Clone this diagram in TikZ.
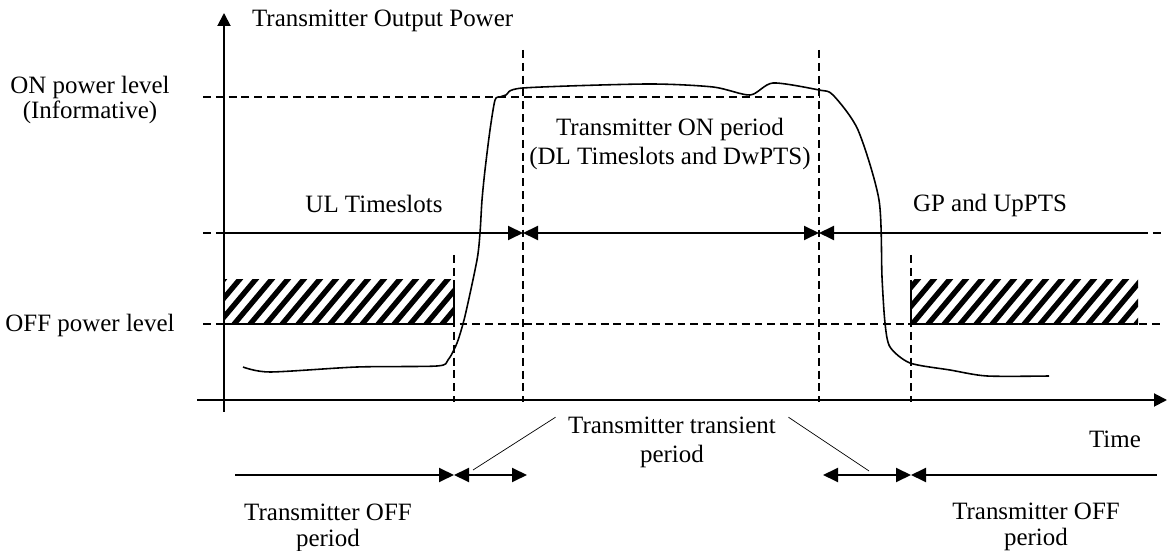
\documentclass[tikz,border=0pt]{standalone}
\usepackage{fontspec}
\setmainfont{Liberation Serif}
\usetikzlibrary{arrows.meta}

\begin{document}
\begin{tikzpicture}[x=0.02cm, y=0.02cm, >={Triangle[length=0.3cm, width=0.28cm]},
    lbl/.style={font=\fontsize{14.2}{16.5}\selectfont, align=center, inner sep=1pt},
    guide/.style={dash pattern=on 4.5pt off 2.8pt, line width=0.8pt},
    span/.style={line width=1.1pt},
    edge/.style={line width=1.6pt}]
  \useasboundingbox (0,0) rectangle (1167,551);
  % Axes
  \draw[span, -{Triangle[length=0.26cm, width=0.26cm]}] (224,139) -- (224,538);
  \draw[span, -{Triangle[length=0.26cm, width=0.26cm]}] (197,151) -- (1167,151);
  % Power levels
  \draw[guide] (203,454) -- (819,454);
  \draw[guide] (203,227) -- (1162,227);
  % Period borders
  \draw[guide] (523,501) -- (523,149);
  \draw[guide] (819,501) -- (819,149);
  \draw[guide] (454,296) -- (454,149);
  \draw[guide] (911,296) -- (911,149);
  % OFF masks (hatched)
  \begin{scope}
    \clip (224,227) rectangle (454,271);
    \foreach \x in {166,182,...,470} \draw[line width=3pt] (\x,222) -- ++(50:75);
  \end{scope}
  \begin{scope}
    \clip (911,227) rectangle (1138,271);
    \foreach \x in {860,876,...,1150} \draw[line width=3pt] (\x,222) -- ++(50:75);
  \end{scope}
  \draw[edge] (224,227) -- (454,227) -- (454,271);
  \draw[edge] (911,271) -- (911,227) -- (1138,227);
  % Slot arrows
  \coordinate (s0) at (224,318);
  \coordinate (s1) at (523,318);
  \coordinate (s2) at (819,318);
  \coordinate (s3) at (1140,318);
  \draw[guide] (203,318) -- (s0);
  \draw[guide] (s3) -- (1162,318);
  \draw[span, ->] (s0) -- (s1);
  \draw[span, <->] (s1) -- (s2);
  \draw[span, <-] (s2) -- (s3);
  % Power curve
  \draw[line width=0.9pt] plot[smooth, tension=0.45] coordinates
    {(243,184) (270,179) (357,184) (437,185) (448,191) (457,208) (465,235)
     (477,291) (480,318) (482,351) (485,381) (490,421) (495,451) (500,454)
     (506,456) (523,463) (647,467) (713,464) (750,456) (773,468) (819,461)
     (833,456) (858,421) (879,351) (882,274) (885,228) (890,204) (910,188)
     (950,181) (987,175) (1049,175)};
  % Labels
  \node[lbl, anchor=base west] (ylab) at (250,524) {Transmitter Output Power};
  \node[lbl] (onlvl) at (90,451) {ON power level\\[-2pt](Informative)};
  \node[lbl, anchor=base] (offlvl) at (90,219) {OFF power level};
  \node[lbl, anchor=base] (ul) at (374,338) {UL Timeslots};
  \node[lbl, anchor=base] (gp) at (990,339) {GP and UpPTS};
  \node[lbl] (onper) at (670,407) {Transmitter ON period\\(DL Timeslots and DwPTS)};
  \node[lbl, inner xsep=7pt] (trans) at (672,109) {Transmitter transient\\period};
  \node[lbl, anchor=base] (time) at (1115,103) {Time};
  \node[lbl] (offl) at (328,23) {Transmitter OFF\\[-2pt]period};
  \node[lbl] (offr) at (1036,24) {Transmitter OFF\\[-2pt]period};
  % Bottom periods
  \coordinate (b0) at (235,76);
  \coordinate (b1) at (454,76);
  \coordinate (b2) at (527,76);
  \coordinate (b3) at (823,76);
  \coordinate (b4) at (911,76);
  \coordinate (b5) at (1157,76);
  \draw[span, ->] (b0) -- (b1);
  \draw[span, <->] (b1) -- (b2);
  \draw[span, <->] (b3) -- (b4);
  \draw[span, <-] (b4) -- (b5);
  \coordinate (tl) at (473,81);
  \coordinate (tr) at (869,80);
  \draw (trans.168) -- (tl);
  \draw (trans.12) -- (tr);
\end{tikzpicture}
\end{document}
